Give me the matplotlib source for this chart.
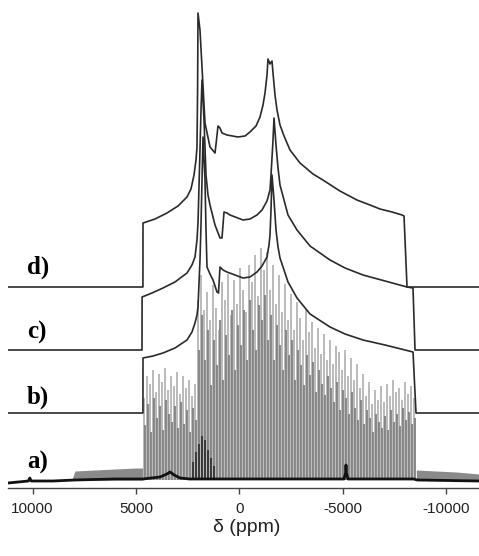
import numpy as np
import matplotlib
matplotlib.use("Agg")
import matplotlib.pyplot as plt

plt.rcParams["axes.unicode_minus"] = False

# stacked spectra, intensities in arbitrary units (height above own baseline)
d_ppm = [11185, 4660, 4657, 4076, 3496, 2964, 2529, 2336, 2191, 2094, 2046, 2017, 1997,
         1901, 1804, 1659, 1417, 1175, 1103, 1030, 933, 837, 595, 63, -276, -517, -808,
         -1001, -1146, -1243, -1340, -1388, -1485, -1581, -1630, -1726, -1823, -1968, -2162,
         -2452, -2935, -3564, -4043, -4866, -5689, -6318, -6804, -7385, -7868, -7965, -8110, -11591]
d_int = [0, 0, 64, 68, 74, 81, 90, 98, 112, 127, 140, 197, 274,
         257, 220, 164, 140, 134, 147, 161, 159, 154, 152, 150, 151, 155, 161,
         170, 182, 194, 212, 228, 223, 226, 214, 192, 177, 162, 151,
         137, 124, 113, 107, 96, 87, 82, 78, 75, 72, 71, 0, 0]

c_ppm = [11185, 4705, 4700, 4222, 3690, 3110, 2529, 2288, 2142, 2046, 1997, 1901, 1852, 1804,
         1707, 1610, 1514, 1417, 1175, 933, 837, 788, 740, 595, 450, -179, -517, -856, -1098,
         -1340, -1485, -1533, -1630, -1678, -1775, -1872, -1968, -2355, -2790, -3419, -4386,
         -5112, -5982, -7046, -8110, -8400, -8497, -11591]
c_int = [0, 0, 53, 57, 62, 68, 77, 85, 93, 110, 127, 200, 240, 270,
         230, 175, 155, 145, 125, 112, 112, 125, 138, 137, 135, 130, 131, 135, 140,
         149, 160, 175, 210, 232, 205, 182, 165, 135, 120, 104, 90,
         82, 75, 69, 63, 62, 0, 0]

b_ppm = [11185, 4660, 4657, 4173, 3690, 3110, 2529, 2288, 2142, 2046, 1997, 1901, 1852, 1804, 1755,
         1659, 1610, 1562, 1417, 1272, 1078, 1006, 933, 788, 595, -179, -517, -856, -1098,
         -1340, -1436, -1485, -1533, -1581, -1678, -1775, -1872, -1968, -2355, -2790, -3419,
         -4386, -5112, -5982, -7046, -8400, -8545, -11591]
b_int = [0, 0, 55, 57, 60, 65, 73, 81, 90, 98, 106, 153, 188, 233, 276,
         233, 183, 146, 139, 133, 121, 120, 146, 143, 141, 135, 136, 141, 147,
         156, 168, 178, 203, 238, 213, 183, 166, 155, 131, 115, 99,
         86, 79, 73, 68, 61, 0, 0]

# a): spinning sidebands, first one at 4620 ppm, 145 ppm apart
sb_first = 4620
sb_step = 145
sb_light = [82, 104, 96, 110, 88, 106, 98, 112, 90, 104,
            94, 108, 86, 104, 92, 100, 84, 96, 180, 205,
            170, 188, 160, 195, 172, 150, 198, 180, 206, 165,
            200, 176, 212, 190, 168, 215, 198, 225, 184, 232,
            210, 228, 190, 215, 176, 205, 168, 196, 160, 186,
            150, 178, 162, 140, 170, 148, 158, 132, 152, 126,
            146, 120, 140, 116, 134, 128, 110, 130, 104, 122,
            100, 116, 92, 106, 84, 98, 76, 90, 80, 94,
            78, 96, 84, 100, 88, 92, 80, 98, 86, 94, 82]
sb_mid = [55, 76, 48, 82, 62, 74, 50, 80, 66, 58,
          74, 52, 78, 56, 70, 48, 72, 60, 130, 165,
          120, 150, 95, 140, 115, 160, 100, 145, 125, 170,
          110, 155, 135, 170, 120, 180, 150, 130, 175, 160,
          185, 140, 165, 120, 155, 135, 110, 150, 125, 140,
          100, 130, 115, 95, 125, 105, 118, 88, 110, 96,
          85, 104, 92, 78, 98, 70, 90, 82, 66, 88,
          72, 60, 80, 56, 70, 62, 48, 66, 58, 52,
          64, 50, 70, 58, 66, 54, 72, 60, 68, 56, 62]
dark_idx = [16, 17, 18, 19, 20, 21, 22, 23]
dark_h = [18, 28, 36, 44, 40, 30, 22, 14]

blk_ppm = [11185, 10200, 10130, 10060, 9000, 7950, 6000, 4660, 3835, 3500, 3351, 3150, 2867, 2400, 933,
           -2934, -5062, -5140, -5159, -5180, -5256, -8430, -8600, -11591]
blk_h = [-3, -1, 2, -1, -1, 0, 1, 1, 3, 6, 8, 5, 2, 1, 1,
         1, 1, 7, 15, 7, 1, 1, 0, -1]

wing_l_ppm = [8100, 7950, 7000, 6000, 5000, 4660]
wing_l_h = [0, 9, 10, 11, 12, 12]
wing_r_ppm = [-8560, -9500, -10500, -11591]
wing_r_h = [10, 9, 8, 6]

labels = ["a)", "b)", "c)", "d)"]
offsets = [8, 75, 138, 201]
label_y = [26, 91, 156, 221]

fig = plt.figure(figsize=(4.79, 5.56), dpi=100)
ax = fig.add_axes([8 / 479, 1 - 488 / 556, 471 / 479, 488 / 556])

# a) spectrum
sb_pos = sb_first - sb_step * np.arange(len(sb_light))
ax.vlines(sb_pos, offsets[0], offsets[0] + np.array(sb_light), color="#b4b4b4", lw=1.3)
ax.vlines(sb_pos - sb_step / 2, offsets[0], offsets[0] + np.array(sb_mid), color="#808080", lw=1.3)
ax.vlines(sb_pos[dark_idx] - sb_step / 2, offsets[0], offsets[0] + np.array(dark_h), color="#333333", lw=1.3)
ax.fill_between(wing_l_ppm, offsets[0], offsets[0] + np.array(wing_l_h), color="#8a8a8a", lw=0)
ax.fill_between(wing_r_ppm, offsets[0], offsets[0] + np.array(wing_r_h), color="#8a8a8a", lw=0)
ax.plot(blk_ppm, offsets[0] + np.array(blk_h), color="#111111", lw=2.0)

# b), c), d)
for ppm, inten, off in [(b_ppm, b_int, offsets[1]), (c_ppm, c_int, offsets[2]), (d_ppm, d_int, offsets[3])]:
    ax.plot(ppm, off + np.array(inten), color="#2a2a2a", lw=1.2, solid_joinstyle="round")

for lab, y in zip(labels, label_y):
    ax.text(10270, y, lab, ha="left", va="center", fontsize=18, fontweight="bold",
            family="Liberation Serif")

ax.set_xlim(11185, -11591)
ax.set_ylim(0, 488)
for s in ["left", "top", "right"]:
    ax.spines[s].set_visible(False)
ax.spines["bottom"].set_color("#444444")
ax.spines["bottom"].set_linewidth(1.0)
ax.set_yticks([])
ax.set_xticks([10000, 5000, 0, -5000, -10000])
ax.tick_params(axis="x", direction="out", length=4, width=1, color="#444444", pad=6,
               labelsize=11, labelcolor="#222222")
for t in ax.get_xticklabels():
    t.set_family("Liberation Sans")
ax.set_xlabel("δ (ppm)", fontsize=14, family="Liberation Sans", color="#222222")
ax.xaxis.set_label_coords((247 - 8) / 471, -0.08)
ax.xaxis.label.set_va("center")

fig.savefig("out.png", dpi=100)
